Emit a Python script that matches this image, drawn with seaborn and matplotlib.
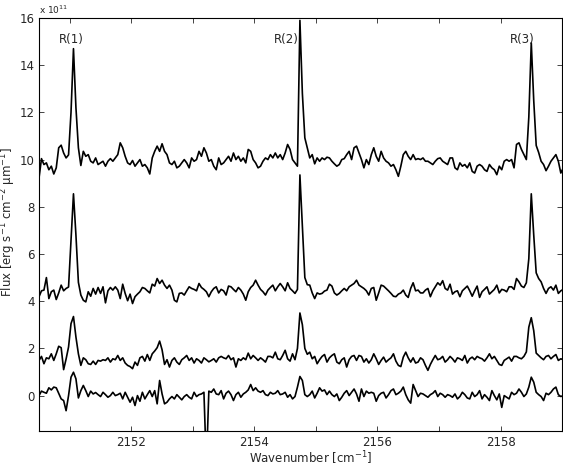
from matplotlib import pyplot as plt
import pandas as pd
import seaborn as sns
import numpy as np

# spectra, one value every 0.04 cm-1 starting at 2150.50
wn_start = 2150.50
wn_step = 0.04

flux_top = [
    9.22, 10.04, 9.79, 9.86, 9.57, 9.72, 9.39, 9.65, 10.50, 10.61,
    10.28, 10.07, 10.20, 12.00, 14.70, 12.20, 10.50, 9.75, 10.35, 10.14,
    10.21, 9.93, 9.86, 10.07, 9.79, 9.86, 9.93, 9.72, 9.93, 10.04,
    9.93, 10.07, 10.21, 10.71, 10.50, 10.14, 9.86, 9.79, 9.96, 9.72,
    9.86, 10.00, 9.72, 9.79, 9.65, 9.39, 10.07, 10.35, 10.57, 10.35,
    10.67, 10.35, 10.21, 9.86, 9.79, 9.93, 9.65, 9.72, 9.86, 10.00,
    9.86, 9.65, 10.07, 9.93, 10.00, 10.35, 10.14, 10.50, 10.28, 9.93,
    10.00, 9.72, 9.57, 10.07, 9.79, 9.86, 10.00, 10.14, 9.93, 10.28,
    10.00, 10.14, 9.93, 10.07, 9.86, 10.43, 10.35, 10.00, 9.86, 9.65,
    9.72, 9.93, 10.07, 10.00, 10.21, 10.07, 10.28, 10.07, 10.21, 10.00,
    10.28, 10.64, 10.43, 10.00, 9.86, 9.72, 15.90, 12.80, 10.92, 10.50,
    10.07, 10.21, 9.82, 10.07, 9.93, 10.07, 10.00, 10.10, 10.07, 9.93,
    9.82, 9.72, 9.79, 10.00, 10.04, 10.21, 10.35, 10.00, 10.50, 10.57,
    10.28, 10.00, 9.65, 10.00, 9.79, 10.21, 10.50, 10.14, 9.93, 10.35,
    10.07, 9.93, 9.86, 9.72, 9.79, 9.57, 9.29, 9.72, 10.21, 10.35,
    10.14, 10.00, 10.21, 10.00, 10.04, 10.00, 10.07, 9.93, 9.93, 9.86,
    9.79, 9.93, 10.04, 10.07, 9.93, 9.86, 9.79, 10.07, 10.07, 9.65,
    9.57, 9.86, 9.72, 9.79, 9.65, 9.86, 9.50, 9.43, 9.72, 9.79,
    9.72, 9.57, 9.50, 9.79, 9.65, 9.57, 9.36, 9.72, 9.57, 9.93,
    10.00, 9.93, 10.00, 9.65, 10.64, 10.71, 10.43, 10.21, 10.00, 11.80,
    14.95, 12.50, 10.60, 10.30, 9.93, 9.79, 9.53, 9.72, 9.93, 10.07,
    10.21, 9.93, 9.43, 9.65]

flux_upper = [
    4.19, 4.44, 4.47, 5.00, 4.11, 4.40, 4.47, 4.07, 4.35, 4.68,
    4.44, 4.54, 4.60, 6.60, 8.55, 6.80, 4.80, 4.26, 4.04, 3.97,
    4.40, 4.21, 4.54, 4.30, 4.58, 4.33, 4.61, 3.93, 4.44, 4.58,
    4.47, 4.61, 4.47, 4.11, 4.72, 4.33, 4.02, 4.30, 3.90, 4.19,
    4.30, 4.40, 4.58, 4.54, 4.44, 4.35, 4.72, 4.64, 4.96, 4.75,
    4.89, 4.68, 4.54, 4.68, 4.47, 4.04, 3.97, 4.33, 4.35, 4.26,
    4.44, 4.61, 4.54, 4.50, 4.44, 4.75, 4.58, 4.50, 4.40, 4.19,
    4.40, 4.54, 4.61, 4.35, 4.50, 4.44, 4.26, 4.64, 4.61, 4.50,
    4.40, 4.58, 4.47, 4.30, 4.04, 4.40, 4.58, 4.68, 4.89, 4.68,
    4.50, 4.40, 4.26, 4.47, 4.58, 4.68, 4.44, 4.61, 4.75, 4.61,
    4.44, 4.78, 4.54, 4.44, 4.33, 4.50, 9.35, 7.20, 5.00, 4.70,
    4.68, 4.35, 4.11, 4.35, 4.30, 4.33, 4.43, 4.47, 4.72, 4.64,
    4.35, 4.26, 4.33, 4.44, 4.54, 4.44, 4.61, 4.68, 4.75, 4.89,
    4.68, 4.61, 4.54, 4.44, 4.26, 4.54, 4.58, 4.04, 4.35, 4.68,
    4.64, 4.54, 4.44, 4.33, 4.21, 4.19, 4.30, 4.35, 4.47, 4.26,
    4.16, 4.54, 4.78, 4.44, 4.47, 4.35, 4.35, 4.47, 4.54, 4.19,
    4.44, 4.61, 4.78, 4.68, 4.87, 4.54, 4.47, 4.72, 4.30, 4.40,
    4.44, 4.19, 4.44, 4.54, 4.64, 4.44, 4.21, 4.44, 4.64, 4.16,
    4.40, 4.50, 4.61, 4.30, 4.40, 4.50, 4.68, 4.35, 4.50, 4.47,
    4.40, 4.61, 4.61, 4.50, 4.96, 4.82, 4.64, 4.58, 4.78, 5.80,
    8.55, 6.80, 5.20, 4.96, 4.82, 4.54, 4.33, 4.54, 4.61, 4.47,
    4.68, 4.33, 4.44, 4.50]

flux_lower = [
    1.49, 1.66, 1.35, 1.60, 1.56, 1.77, 1.49, 1.77, 2.09, 2.03,
    1.10, 1.55, 2.06, 3.05, 3.35, 2.48, 1.77, 1.28, 1.60, 1.52,
    1.35, 1.32, 1.46, 1.32, 1.49, 1.46, 1.52, 1.49, 1.60, 1.42,
    1.56, 1.52, 1.70, 1.49, 1.60, 1.38, 1.28, 1.23, 1.14, 1.42,
    1.28, 1.60, 1.66, 1.46, 1.74, 1.49, 1.77, 1.89, 2.03, 2.31,
    1.94, 1.32, 1.52, 1.21, 1.49, 1.60, 1.42, 1.32, 1.52, 1.60,
    1.70, 1.49, 1.60, 1.38, 1.56, 1.49, 1.38, 1.60, 1.52, 1.43,
    1.49, 1.56, 1.42, 1.60, 1.66, 1.60, 1.56, 1.70, 1.52, 1.60,
    1.21, 1.56, 1.49, 1.60, 1.52, 1.80, 1.56, 1.70, 1.60, 1.49,
    1.60, 1.52, 1.42, 1.66, 1.66, 1.60, 1.84, 1.56, 1.52, 1.70,
    1.92, 1.56, 1.46, 1.77, 1.52, 2.00, 3.50, 3.00, 2.00, 1.75,
    1.84, 1.56, 1.66, 1.35, 1.52, 1.66, 1.74, 1.42, 1.60, 1.70,
    1.77, 1.42, 1.35, 1.52, 1.60, 1.21, 1.52, 1.66, 1.70, 1.49,
    1.70, 1.66, 1.42, 1.56, 1.38, 1.52, 1.77, 1.56, 1.32, 1.49,
    1.63, 1.42, 1.52, 1.60, 1.77, 1.46, 1.28, 1.23, 1.63, 1.84,
    1.60, 1.42, 1.60, 1.38, 1.42, 1.60, 1.52, 1.28, 1.07, 1.32,
    1.52, 1.70, 1.52, 1.56, 1.66, 1.42, 1.52, 1.66, 1.56, 1.42,
    1.60, 1.56, 1.49, 1.70, 1.38, 1.56, 1.63, 1.52, 1.66, 1.60,
    1.56, 1.46, 1.60, 1.77, 1.56, 1.66, 1.49, 1.32, 1.28, 1.49,
    1.56, 1.63, 1.46, 1.66, 1.66, 1.60, 1.56, 1.66, 1.85, 2.90,
    3.30, 2.75, 1.80, 1.70, 1.60, 1.52, 1.66, 1.70, 1.56, 1.66,
    1.74, 1.49, 1.56, 1.52]

flux_bottom = [
    0.00, 0.19, 0.14, 0.10, 0.33, 0.24, 0.36, 0.33, 0.10, -0.14,
    -0.21, -0.64, 0.00, 0.78, 0.99, 0.71, -0.10, 0.21, 0.43, 0.21,
    -0.04, 0.19, 0.07, 0.13, 0.04, -0.04, 0.14, 0.04, -0.07, 0.00,
    0.14, 0.00, 0.04, 0.10, -0.14, 0.14, -0.07, -0.28, -0.07, -0.42,
    0.00, -0.24, 0.14, -0.14, 0.04, 0.21, -0.04, 0.21, -0.35, 0.64,
    0.07, -0.35, -0.28, -0.14, -0.04, -0.14, 0.04, -0.07, -0.18, -0.04,
    0.04, -0.07, -0.14, 0.14, -0.04, 0.04, 0.07, 0.14, -3.00, 0.19,
    0.14, 0.28, 0.07, 0.04, 0.21, -0.14, 0.10, 0.19, 0.04, -0.21,
    0.04, 0.14, -0.07, 0.07, 0.14, 0.24, 0.47, 0.21, 0.33, 0.19,
    0.14, 0.21, 0.04, 0.00, 0.14, 0.07, 0.10, 0.21, 0.04, 0.07,
    0.14, -0.07, 0.04, -0.14, -0.04, 0.36, 0.81, 0.64, 0.04, -0.04,
    0.04, 0.19, -0.10, 0.10, 0.33, 0.19, 0.24, 0.04, 0.19, 0.04,
    -0.04, 0.07, -0.21, -0.07, 0.10, 0.21, 0.00, 0.14, 0.28, 0.07,
    -0.24, 0.28, -0.04, 0.19, 0.10, 0.14, 0.10, -0.24, 0.00, 0.10,
    0.14, -0.10, 0.04, 0.21, 0.28, 0.04, 0.10, 0.19, 0.36, 0.04,
    -0.18, -0.32, 0.47, 0.21, -0.04, 0.10, 0.07, 0.00, -0.07, 0.04,
    0.10, 0.21, -0.04, 0.10, 0.04, -0.07, 0.04, 0.00, -0.07, 0.07,
    -0.14, -0.04, 0.14, 0.04, -0.10, -0.14, 0.14, -0.04, 0.04, 0.21,
    -0.14, 0.04, -0.07, -0.21, 0.21, 0.00, -0.18, 0.07, -0.50, 0.00,
    -0.07, -0.14, 0.14, 0.04, 0.10, 0.28, 0.14, -0.04, 0.07, 0.36,
    0.78, 0.57, 0.14, 0.04, -0.04, -0.21, 0.10, 0.04, 0.14, 0.28,
    0.36, 0.04, -0.04, 0.00]

line_names = ["R(1)", "R(2)", "R(3)"]
line_label_wn = [2151.02, 2154.52, 2158.36]
line_label_flux = [15.1, 15.1, 15.1]

x_ticks = [2151, 2152, 2153, 2154, 2155, 2156, 2157, 2158]
x_ticklabels = ["", "2152", "", "2154", "", "2156", "", "2158"]
y_ticks = [0, 2, 4, 6, 8, 10, 12, 14, 16]

# long table for seaborn
frames = []
for name, flux in [("top", flux_top), ("upper", flux_upper),
                   ("lower", flux_lower), ("bottom", flux_bottom)]:
    wn = wn_start + wn_step * np.arange(len(flux))
    frames.append(pd.DataFrame({"wn": wn, "flux": flux, "spectrum": name}))
df = pd.concat(frames, ignore_index=True)

sns.set_style("ticks")
plt.rcParams['font.family'] = ['DejaVu Sans']
plt.rcParams['mathtext.fontset'] = 'dejavusans'

fig = plt.figure(figsize=(5.63, 4.67), dpi=100)
ax = fig.add_axes([0.0693, 0.0771, 0.929, 0.8844])

sns.lineplot(data=df, x="wn", y="flux", hue="spectrum", palette=["k"] * 4,
             legend=False, sort=False, linewidth=1.2, ax=ax)

for name, xw, yf in zip(line_names, line_label_wn, line_label_flux):
    ax.text(xw, yf, name, ha="center", va="center", fontsize=8.5)

ax.set_xlim(2150.5, 2159)
ax.set_ylim(-1.5, 16)
ax.set_xticks(x_ticks)
ax.set_xticklabels(x_ticklabels)
ax.set_yticks(y_ticks)
ax.tick_params(direction="in", length=3.6, width=0.6, top=True, right=True,
               labelsize=8.5)
ax.tick_params(axis="x", pad=3.5)
ax.tick_params(axis="y", pad=3)
for sp in ax.spines.values():
    sp.set_linewidth(0.8)
    sp.set_color("k")

ax.set_xlabel("Wavenumber [cm$^{-1}$]", fontsize=8.5)
ax.xaxis.set_label_coords(0.519, -0.044)
ax.set_ylabel("Flux [erg s$^{-1}$ cm$^{-2}$ \u03bcm$^{-1}$]", fontsize=8.5)
ax.yaxis.set_label_coords(-0.040, 0.507)
fig.text(39 / 563, 1 - 14 / 467, "x 10$^{11}$", fontsize=6.5, va="baseline", ha="left")

plt.savefig("out.png", dpi=100)
